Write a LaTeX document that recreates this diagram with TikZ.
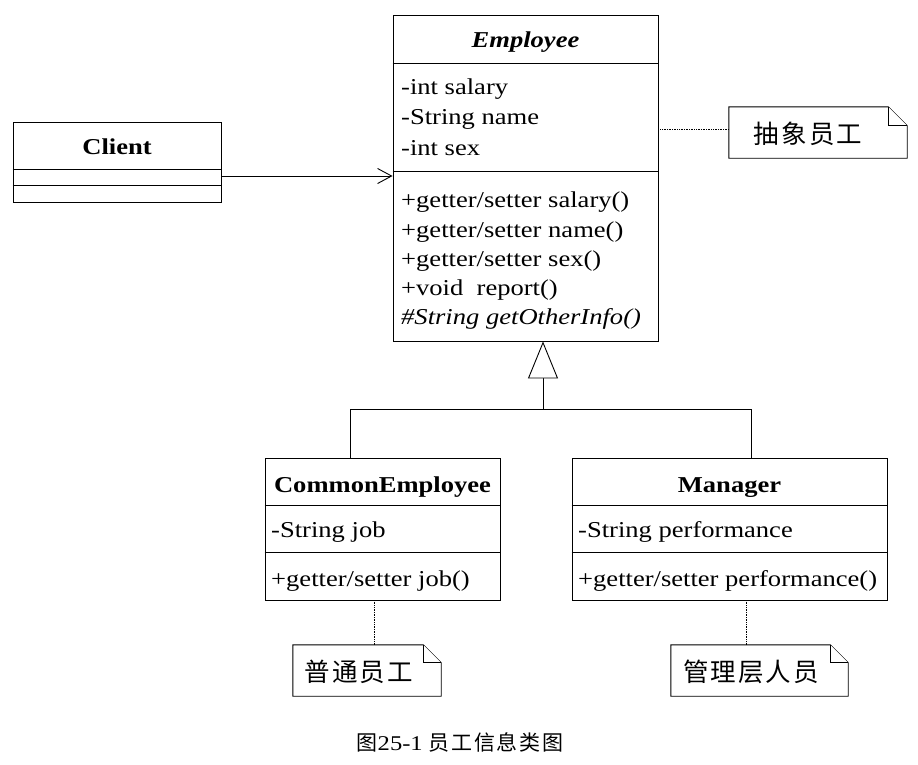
\documentclass[tikz,border=0pt]{standalone}
\usepackage{fontspec}
\setmainfont{Liberation Serif}[FakeStretch=1.17]
\newfontfamily\cjk{Noto Sans CJK SC}[LetterSpace=8]
\usetikzlibrary{arrows.meta}
\begin{document}
\begin{tikzpicture}[x=1pt,y=-1pt,
  box/.style={draw, line width=0.9pt, inner sep=0, fill=white},
  sep/.style={line width=0.9pt},
  txt/.style={inner sep=0, anchor=base west, font=\fontsize{22.7}{27}\selectfont},
  ttl/.style={inner sep=0, anchor=base, font=\fontsize{22.7}{27}\selectfont\bfseries},
  notebox/.style={inner sep=0},
  notetxt/.style={inner sep=0, font=\fontsize{25.5}{30}\selectfont\cjk},
  notedraw/.style={line width=0.9pt, fill=white},
  link/.style={line width=0.7pt, densely dotted},
  conn/.style={line width=0.9pt}
]
\useasboundingbox (0,0) rectangle (918,764);

% Employee
\node[box, minimum width=265pt, minimum height=326pt] (emp) at (525.5,178) {};
\draw[sep] (emp.west |- 0,63) -- (emp.east |- 0,63);
\draw[sep] (emp.west |- 0,171) -- (emp.east |- 0,171);
\node[ttl, font=\fontsize{22.7}{27}\selectfont\bfseries\itshape] (empt) at (525.5,47) {Employee};
\node[txt] (ea1) at (401,94) {-int salary};
\node[txt] (ea2) at (401,124) {-String name};
\node[txt] (ea3) at (401,155) {-int sex};
\node[txt] (em1) at (401,207) {+getter/setter salary()};
\node[txt] (em2) at (401,237) {+getter/setter name()};
\node[txt] (em3) at (401,266) {+getter/setter sex()};
\node[txt] (em4) at (401,295) {+void\ \ report()};
\node[txt, font=\fontsize{22.7}{27}\selectfont\itshape] (em5) at (401,324) {\#String getOtherInfo()};

% Client
\node[box, minimum width=208pt, minimum height=80pt] (client) at (117,162) {};
\draw[sep] (client.west |- 0,169) -- (client.east |- 0,169);
\draw[sep] (client.west |- 0,185) -- (client.east |- 0,185);
\node[ttl] (clientt) at (117,154) {Client};

% CommonEmployee
\node[box, minimum width=235pt, minimum height=142pt] (ce) at (382.5,529) {};
\draw[sep] (ce.west |- 0,505) -- (ce.east |- 0,505);
\draw[sep] (ce.west |- 0,552) -- (ce.east |- 0,552);
\node[ttl] (cet) at (382.5,492) {CommonEmployee};
\node[txt] (cea) at (271,537) {-String job};
\node[txt] (cem) at (271,586) {+getter/setter job()};

% Manager
\node[box, minimum width=315pt, minimum height=142pt] (mg) at (729.5,529) {};
\draw[sep] (mg.west |- 0,505) -- (mg.east |- 0,505);
\draw[sep] (mg.west |- 0,552) -- (mg.east |- 0,552);
\node[ttl] (mgt) at (729.5,492) {Manager};
\node[txt] (mga) at (578,537) {-String performance};
\node[txt] (mgm) at (578,586) {+getter/setter performance()};

% Association Client -> Employee
\coordinate (ca) at (221,176);
\draw[conn, -{Straight Barb[length=14pt,width=15pt,line width=0.9pt]}] (ca) -- (ca -| emp.west);

% Generalization
\coordinate (j) at (543,409);
\coordinate (jl) at (350,409);
\coordinate (jr) at (751,409);
\draw[conn] (jl |- ce.north) -- (jl) -- (jr) -- (jr |- mg.north);
\draw[conn, -{Triangle[open,length=37pt,width=30pt,line width=0.9pt,fill=white]}] (j) -- (j |- emp.south);

% Notes
\node[notebox, minimum width=178pt, minimum height=51pt] (n0) at (818,132.5) {};
\draw[notedraw] (n0.north west) -- ([xshift=-19pt]n0.north east) -- ([yshift=-19pt]n0.north east) -- (n0.south east) -- (n0.south west) -- cycle;
\draw[notedraw] ([xshift=-19pt]n0.north east) -- ([xshift=-19pt,yshift=-19pt]n0.north east) -- ([yshift=-19pt]n0.north east);
\node[notetxt] (n0t) at (808,134) {抽象员工};
\draw[link] (emp.east |- 0,129) -- (n0.west |- 0,129);

\node[notebox, minimum width=148pt, minimum height=51pt] (n1) at (367,670.5) {};
\draw[notedraw] (n1.north west) -- ([xshift=-18pt]n1.north east) -- ([yshift=-18pt]n1.north east) -- (n1.south east) -- (n1.south west) -- cycle;
\draw[notedraw] ([xshift=-18pt]n1.north east) -- ([xshift=-18pt,yshift=-18pt]n1.north east) -- ([yshift=-18pt]n1.north east);
\node[notetxt] (n1t) at (359,672) {普通员工};
\coordinate (l1) at (374,600);
\draw[link] (l1) -- (l1 |- n1.north);

\node[notebox, minimum width=177pt, minimum height=51pt] (n2) at (759.5,670.5) {};
\draw[notedraw] (n2.north west) -- ([xshift=-18pt]n2.north east) -- ([yshift=-18pt]n2.north east) -- (n2.south east) -- (n2.south west) -- cycle;
\draw[notedraw] ([xshift=-18pt]n2.north east) -- ([xshift=-18pt,yshift=-18pt]n2.north east) -- ([yshift=-18pt]n2.north east);
\node[notetxt] (n2t) at (751,672) {管理层人员};
\coordinate (l2) at (746,600);
\draw[link] (l2) -- (l2 |- n2.north);

% Caption
\node[inner sep=0, font=\fontsize{21}{25}\selectfont] (cap) at (460,742) {{\cjk 图}25-1 {\cjk 员工信息类图}};
\end{tikzpicture}
\end{document}
